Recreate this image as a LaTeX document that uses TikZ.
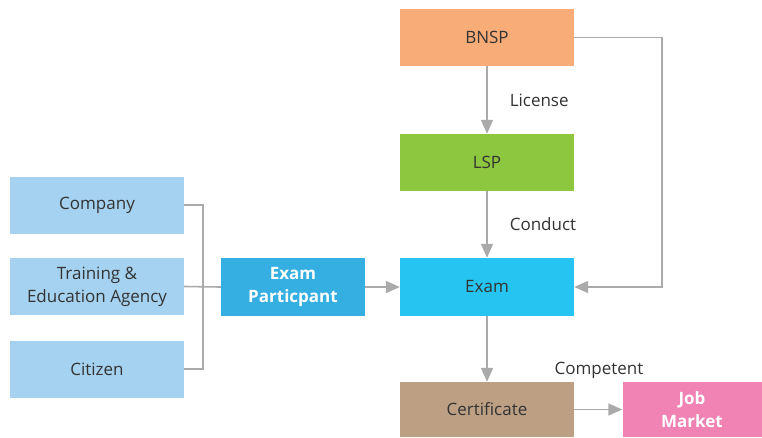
\documentclass[tikz,border=0pt]{standalone}
\usepackage{fontspec}
\setmainfont{Open Sans}
\usetikzlibrary{arrows.meta}
\definecolor{cBNSP}{HTML}{F8AC78}
\definecolor{cLSP}{HTML}{8DC63F}
\definecolor{cExam}{HTML}{26C4F0}
\definecolor{cCert}{HTML}{BDA084}
\definecolor{cJob}{HTML}{F083B3}
\definecolor{cLight}{HTML}{A4D2F0}
\definecolor{cPart}{HTML}{35AEE2}
\definecolor{cLine}{HTML}{AAAAAA}
\definecolor{cText}{HTML}{333333}
\tikzset{
  box/.style={rectangle, inner sep=0pt, minimum width=174pt, minimum height=57pt, align=center, text=cText, font=\fontsize{17}{23}\selectfont},
  wbox/.style={box, text=white, font=\fontsize{17}{23}\selectfont\bfseries},
  conn/.style={draw=cLine, line width=1.6pt},
  arr/.style={conn, -{Triangle[length=14pt, width=12pt]}},
  lbl/.style={text=cText, font=\fontsize{17}{23}\selectfont, inner sep=0pt},
}
\begin{document}
\begin{tikzpicture}[x=1pt, y=-1pt]
\useasboundingbox (0,0) rectangle (762,437);
\node[box, fill=cBNSP] (BNSP) at (487,37.5) {BNSP};
\node[box, fill=cLSP] (LSP) at (487,162.5) {LSP};
\node[box, fill=cExam, minimum height=58pt] (Exam) at (487,287) {Exam};
\node[box, fill=cCert, minimum height=55pt] (Cert) at (487,409.5) {Certificate};
\node[wbox, fill=cJob, minimum width=139pt, minimum height=55pt] (Job) at (692,409.5) {Job\\Market};
\node[box, fill=cLight] (Company) at (97,205) {Company};
\node[box, fill=cLight] (Training) at (97,286.5) {Training \&\\Education Agency};
\node[box, fill=cLight] (Citizen) at (97,369) {Citizen};
\node[wbox, fill=cPart, minimum width=144pt, minimum height=58pt] (EP) at (293,287) {Exam\\Particpant};

\draw[conn] (Company.east) -- ++(19,0) |- (Citizen.east);
\draw[conn] (Training.east) -- (EP.west);
\draw[arr] (EP.east) -- (Exam.west);
\draw[arr] (BNSP.south) -- (LSP.north) node[lbl, midway, right=22pt] {License};
\draw[arr] (LSP.south) -- (Exam.north) node[lbl, midway, right=22pt] {Conduct};
\draw[arr] (BNSP.east) -- ++(88,0) |- (Exam.east);
\draw[arr] (Exam.south) -- (Cert.north);
\draw[arr] (Cert.east) -- (Job.west);
\node[lbl] (comp) at (599,370) {Competent};
\end{tikzpicture}
\end{document}
